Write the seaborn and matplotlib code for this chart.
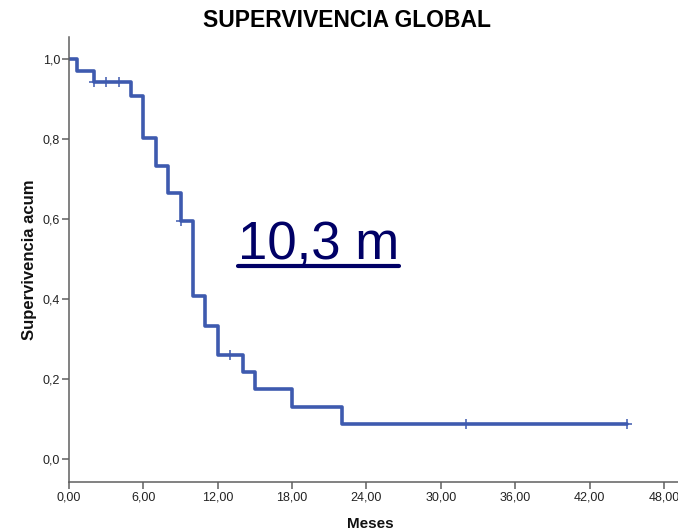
import numpy as np
import pandas as pd
import seaborn as sns
import matplotlib.pyplot as plt
from matplotlib.lines import Line2D
from matplotlib.ticker import FuncFormatter

# curva de Kaplan-Meier (escalones)
tiempos = [0, 0.65, 2.0, 5.0, 6.0, 7.0, 8.0, 9.0, 10.0, 11.0, 12.0, 14.0, 15.0, 18.0, 22.0, 45.0]
superv = [1.0, 0.971, 0.943, 0.908, 0.803, 0.733, 0.665, 0.595, 0.408, 0.333, 0.260, 0.218, 0.174, 0.130, 0.087, 0.087]

# casos censurados
cens_t = [2.0, 3.0, 4.0, 9.0, 13.0, 32.0, 45.0]
cens_s = [0.943, 0.943, 0.943, 0.595, 0.260, 0.087, 0.087]

mediana = "10,3 m"

sns.set_style("ticks")
plt.rcParams['font.family'] = ['Liberation Sans', 'DejaVu Sans']

azul = "#3E5AAF"
gris = "#5f5f5f"

fig = plt.figure(figsize=(6.78, 5.32), dpi=100)
ax = fig.add_axes([69 / 678, 50 / 532, 609 / 678, 445 / 532])

df = pd.DataFrame({'t': tiempos, 's': superv})
sns.lineplot(data=df, x='t', y='s', ax=ax, color=azul, linewidth=2.6,
             drawstyle='steps-post', estimator=None, sort=False)
dc = pd.DataFrame({'t': cens_t, 's': cens_s})
sns.scatterplot(data=dc, x='t', y='s', ax=ax, marker='+', s=45,
                color=azul, linewidth=1.1, zorder=3)

ax.set_xlim(0, 49.13)
ax.set_ylim(-0.0575, 1.055)
ax.set_xticks(np.arange(0, 49, 6))
ax.set_yticks(np.arange(0, 1.01, 0.2))
ax.xaxis.set_major_formatter(FuncFormatter(lambda v, p: f"{v:.2f}".replace('.', ',')))
ax.yaxis.set_major_formatter(FuncFormatter(lambda v, p: f"{v:.1f}".replace('.', ',')))
ax.tick_params(axis='both', direction='out', length=5, width=1.1, color=gris,
               labelsize=9, labelcolor='#222222')
ax.tick_params(axis='x', pad=2)
ax.tick_params(axis='y', pad=1.5)
sns.despine(ax=ax)
for s in ['left', 'bottom']:
    ax.spines[s].set_color(gris)
    ax.spines[s].set_linewidth(1.1)

lab = dict(fontweight='bold', color='#111111')
ax.set_xlabel("Meses", fontsize=11, **lab)
ax.set_ylabel("Supervivencia acum", fontsize=12, **lab)
ax.xaxis.set_label_coords(0.494, -0.078)
ax.yaxis.set_label_coords(-0.052, 0.5)

fig.text(347 / 678, 1 - 27 / 532, "SUPERVIVENCIA GLOBAL", ha='center', va='baseline',
         fontsize=16.5, fontweight='bold', color='black')

# mediana de supervivencia, subrayada
tx, ty = 13.6, 0.5
txt = ax.text(tx, ty, mediana, fontsize=38, color='#000066', ha='left', va='baseline')
fig.canvas.draw()
bb = txt.get_window_extent()
base = ax.transData.transform((tx, ty))[1]
inv = fig.transFigure.inverted()
(x0, y0) = inv.transform((bb.x0, base - 7))
(x1, _) = inv.transform((bb.x1, base - 7))
fig.add_artist(Line2D([x0, x1], [y0, y0], transform=fig.transFigure,
                      color='#000066', linewidth=3))

fig.savefig('out.png', dpi=100)
